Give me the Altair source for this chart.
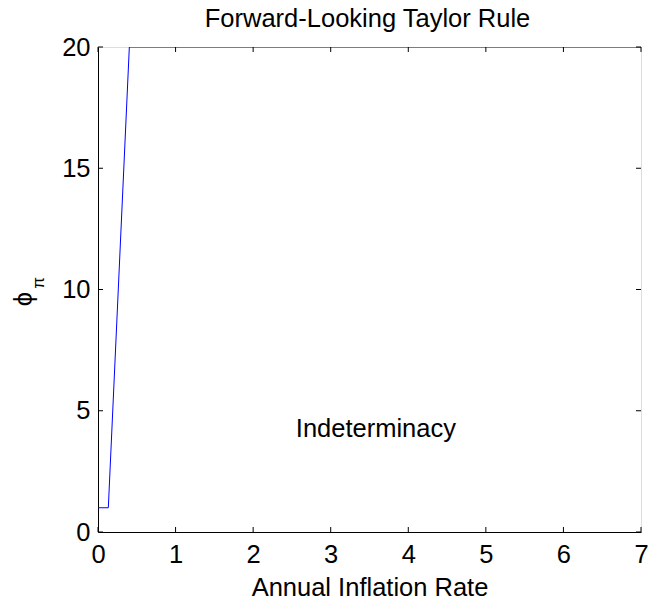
import altair as alt
import pandas as pd

# Data
curve_x = [0.0, 0.133, 0.404, 7.0]
curve_y = [1.0, 1.0, 20.0, 20.0]
x_ticks = [0, 1, 2, 3, 4, 5, 6, 7]
y_ticks = [0, 5, 10, 15, 20]
annot_text = ["Indeterminacy"]
annot_x = [2.55]
annot_y = [3.92]
title_text = ["Forward-Looking Taylor Rule"]

W, H = 543, 485
FONT = "Liberation Sans"
FS = 25.5
TICK = 5

curve = pd.DataFrame({"x": curve_x, "y": curve_y})
xt = pd.DataFrame({"v": x_ticks})
yt = pd.DataFrame({"v": y_ticks})
ann = pd.DataFrame({"t": annot_text, "x": annot_x, "y": annot_y})

xscale = alt.Scale(domain=[0, 7], nice=False, zero=False)
yscale = alt.Scale(domain=[0, 20], nice=False, zero=False)

line = alt.Chart(curve).mark_line(color="#0000ff", strokeWidth=1, clip=True).encode(
    x=alt.X("x:Q", scale=xscale,
            axis=alt.Axis(values=x_ticks, format="d", title="Annual Inflation Rate", ticks=False,
                          domain=True, domainColor="black", grid=False, labelPadding=10, titlePadding=8,
                          labelFont=FONT, labelFontSize=FS, labelColor="black",
                          titleFont=FONT, titleFontSize=FS, titleFontWeight="normal",
                          titleColor="black", labelFlush=False)),
    y=alt.Y("y:Q", scale=yscale,
            axis=alt.Axis(values=y_ticks, format="d", title=None, ticks=False, domain=True,
                          domainColor="black", grid=False,
                          labelPadding=8, labelFont=FONT, labelFontSize=FS,
                          labelColor="black", labelFlush=False)),
)

tb = alt.Chart(xt).mark_rule(color="black", strokeWidth=1).encode(
    x=alt.X("v:Q", scale=xscale), y=alt.value(H), y2=alt.value(H - TICK))
tt = alt.Chart(xt).mark_rule(color="black", strokeWidth=1).encode(
    x=alt.X("v:Q", scale=xscale), y=alt.value(0), y2=alt.value(TICK))
tl = alt.Chart(yt).mark_rule(color="black", strokeWidth=1).encode(
    y=alt.Y("v:Q", scale=yscale), x=alt.value(0), x2=alt.value(TICK))
tr = alt.Chart(yt).mark_rule(color="black", strokeWidth=1).encode(
    y=alt.Y("v:Q", scale=yscale), x=alt.value(W), x2=alt.value(W - TICK))

text = alt.Chart(ann).mark_text(font=FONT, fontSize=FS, align="left",
                                baseline="alphabetic", color="black").encode(
    x=alt.X("x:Q", scale=xscale), y=alt.Y("y:Q", scale=yscale), text="t:N")

title = alt.Chart(pd.DataFrame({"t": title_text})).mark_text(
    font=FONT, fontSize=FS, align="center", baseline="alphabetic", color="black"
).encode(x=alt.value(W / 2 - 2), y=alt.value(-20), text="t:N")

phi = alt.Chart(pd.DataFrame({"t": ["ϕ"]})).mark_text(
    font=FONT, fontSize=FS, angle=270, align="center", baseline="middle", color="black"
).encode(x=alt.value(-74), y=alt.value(252), text="t:N")
pi = alt.Chart(pd.DataFrame({"t": ["π"]})).mark_text(
    font=FONT, fontSize=17, angle=270, align="center", baseline="middle", color="black"
).encode(x=alt.value(-59), y=alt.value(236), text="t:N")

chart = alt.layer(line, tb, tt, tl, tr, text, title, phi, pi).properties(
    width=W, height=H,
    autosize=alt.AutoSizeParams(type="none"),
    padding={"left": 90, "top": 39, "right": 16, "bottom": 70},
).configure_view(stroke="black", strokeWidth=1).configure(background="white")

chart.save("out.html", embed_options={"renderer": "svg", "actions": False})
